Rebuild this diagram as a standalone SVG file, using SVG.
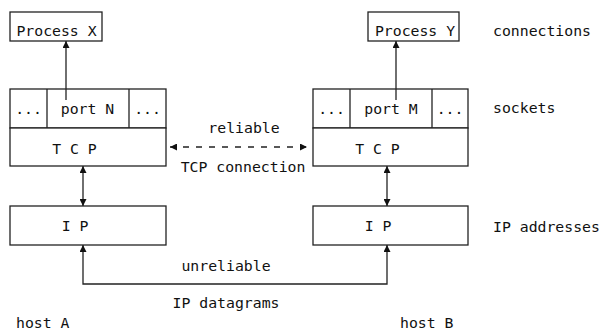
<svg xmlns="http://www.w3.org/2000/svg" width="600" height="331" viewBox="0 0 600 331">
<style>
.b{fill:#fff;stroke:#222;stroke-width:1.3}
.l{fill:none;stroke:#222;stroke-width:1.3}
.d{fill:none;stroke:#222;stroke-width:1.3;stroke-dasharray:6 7}
text{font-family:"DejaVu Sans Mono","Liberation Mono",monospace;font-size:14.8px;fill:#111}
.m{text-anchor:middle}
</style>
<defs>
<marker id="ah" viewBox="0 0 10 10" refX="10" refY="5" markerWidth="7" markerHeight="7" markerUnits="userSpaceOnUse" orient="auto-start-reverse">
<path d="M0,0L10,5L0,10z" fill="#111"/>
</marker>
</defs>
<rect width="600" height="331" fill="#fff"/>
<g id="processX"><rect class="b" x="10" y="12" width="92" height="29"/><text class="m" x="56.5" y="36">Process X</text></g>
<g id="processY"><rect class="b" x="368" y="12" width="91" height="29"/><text class="m" x="415" y="36">Process Y</text></g>
<g id="socketA">
<rect class="b" x="10" y="89" width="156" height="39"/>
<line class="l" x1="47" y1="89" x2="47" y2="128"/><line class="l" x1="129" y1="89" x2="129" y2="128"/>
<text class="m" x="28.5" y="114">...</text><text class="m" x="87.5" y="114">port N</text><text class="m" x="147.5" y="114">...</text>
</g>
<g id="tcpA"><rect class="b" x="10" y="128" width="156" height="38"/><text class="m" x="74.5" y="154">T C P</text></g>
<g id="socketB">
<rect class="b" x="313" y="89" width="155" height="39"/>
<line class="l" x1="350" y1="89" x2="350" y2="128"/><line class="l" x1="432" y1="89" x2="432" y2="128"/>
<text class="m" x="331.5" y="114">...</text><text class="m" x="391" y="114">port M</text><text class="m" x="450" y="114">...</text>
</g>
<g id="tcpB"><rect class="b" x="313" y="128" width="155" height="38"/><text class="m" x="377.5" y="154">T C P</text></g>
<g id="ipA"><rect class="b" x="10" y="206" width="156" height="39"/><text class="m" x="75" y="231">I P</text></g>
<g id="ipB"><rect class="b" x="313" y="206" width="155" height="39"/><text class="m" x="378" y="231">I P</text></g>
<g id="connectors">
<line class="l" x1="66" y1="100" x2="66" y2="41" marker-end="url(#ah)"/>
<line class="l" x1="396" y1="100" x2="396" y2="41" marker-end="url(#ah)"/>
<line class="d" x1="170" y1="147" x2="307" y2="147" marker-start="url(#ah)" marker-end="url(#ah)"/>
<line class="l" x1="83" y1="166" x2="83" y2="206" marker-start="url(#ah)" marker-end="url(#ah)"/>
<line class="l" x1="387" y1="166" x2="387" y2="206" marker-start="url(#ah)" marker-end="url(#ah)"/>
<path class="l" d="M83,245V284H387V245" marker-start="url(#ah)" marker-end="url(#ah)"/>
</g>
<g id="labels">
<text class="m" x="244" y="133">reliable</text>
<text class="m" x="243" y="171.5">TCP connection</text>
<text class="m" x="226" y="270.5">unreliable</text>
<text class="m" x="226" y="308">IP datagrams</text>
<text x="16" y="328">host A</text>
<text x="400" y="328">host B</text>
<text x="493" y="36">connections</text>
<text x="493" y="113">sockets</text>
<text x="493" y="231.5">IP addresses</text>
</g>
</svg>
